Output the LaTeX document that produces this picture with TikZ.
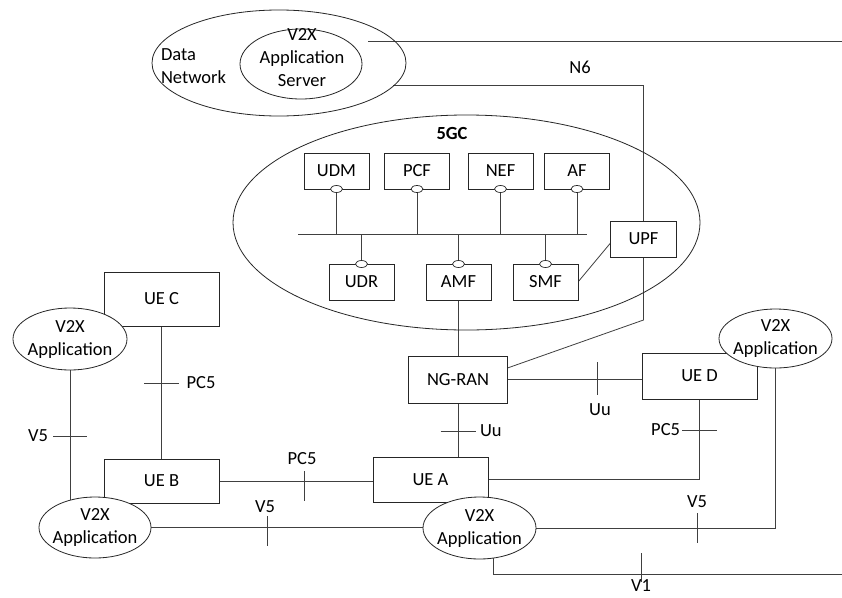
\documentclass[tikz,border=0pt]{standalone}
\usepackage{fontspec}
\setmainfont{Carlito}
\usetikzlibrary{shapes.geometric,calc,backgrounds}
\begin{document}
\begin{tikzpicture}[x=1pt,y=-1pt,
  every node/.style={font=\fontsize{18.5}{23}\selectfont, inner sep=0pt, outer sep=0pt},
  box/.style={draw=black!85, line width=0.8pt, fill=white, rectangle},
  nf/.style={box, minimum width=65pt, minimum height=36pt},
  ue/.style={box, minimum width=115pt},
  oval/.style={draw=black!85, line width=0.8pt, ellipse},
  app/.style={oval, fill=white},
  lolly/.style={draw=black!85, line width=0.7pt, fill=white, ellipse, minimum width=12pt, minimum height=7pt},
  conn/.style={draw=black!75, line width=0.8pt},
  lbl/.style={align=center}]
\useasboundingbox (0,0) rectangle (842,597);

% Data network
\node[oval, minimum width=254pt, minimum height=106pt] (dn) at (279,63) {};
\node[align=left, anchor=west] (dnlbl) at (161,66) {Data\\Network};
\node[oval, minimum width=122pt, minimum height=70pt] (as) at (301,64) {};
\node[lbl] (aslbl) at (302,58) {V2X\\Application\\Server};
\node (n6) at (580,67) {N6};

% 5GC
\node[oval, minimum width=467pt, minimum height=215pt] (fgc) at (466.5,222.5) {};
\node[font=\fontsize{18.5}{23}\selectfont\bfseries] (fgclbl) at (452,133) {5GC};
\node[nf] (udm) at (336.5,171) {UDM};
\node[nf] (pcf) at (417,171) {PCF};
\node[nf] (nef) at (500.5,171) {NEF};
\node[nf] (af) at (577,171) {AF};
\node[nf] (udr) at (361.5,282) {UDR};
\node[nf] (amf) at (458.5,282) {AMF};
\node[nf] (smf) at (545.5,282) {SMF};
\node[nf, minimum width=66pt] (upf) at (643.5,239) {UPF};
\node[lolly] (ludm) at (udm.south) {};
\node[lolly] (lpcf) at (pcf.south) {};
\node[lolly] (lnef) at (nef.south) {};
\node[lolly] (laf) at (af.south) {};
\node[lolly] (ludr) at (udr.north) {};
\node[lolly] (lamf) at (amf.north) {};
\node[lolly] (lsmf) at (smf.north) {};
\coordinate (busL) at (298,234);
\coordinate (busR) at (587,234);

% RAN and UEs
\node[box, minimum width=99pt, minimum height=47pt] (ngran) at (458,379.5) {NG-RAN};
\node[ue, minimum height=45pt] (uea) at (430.5,479.5) {UE A};
\node[ue, minimum height=46pt] (ued) at (699.5,376) {UE D};
\node[ue, minimum height=54pt] (uec) at (161.5,299) {UE C};
\node[ue, minimum height=44pt] (ueb) at (161.5,481) {UE B};

% V2X applications
\node[app, minimum width=114pt, minimum height=62pt] (appc) at (70,339) {};
\node[lbl] (appclbl) at (appc.center) {V2X\\Application};
\node[app, minimum width=112pt, minimum height=61pt] (appb) at (95,527.5) {};
\node[lbl] (appblbl) at (appb.center) {V2X\\Application};
\node[app, minimum width=113pt, minimum height=62pt] (appa) at (479.5,528) {};
\node[lbl] (appalbl) at (appa.center) {V2X\\Application};
\node[app, minimum width=113pt, minimum height=59pt] (appd) at (775.5,338.5) {};
\node[lbl] (appdlbl) at (appd.center) {V2X\\Application};

% interface labels
\node (uu1) [anchor=west] at (480,431) {Uu};
\node (uu2) at (600,410) {Uu};
\node (pc5d) [anchor=east] at (680,430) {PC5};
\node (pc5c) at (201,383) {PC5};
\node (v5c) at (38,436) {V5};
\node (pc5b) at (302,459) {PC5};
\node (v5b) at (265,507) {V5};
\node (v5d) at (697,502) {V5};
\node (v1) at (641,586) {V1};

\coordinate (asout) at (368,41);
\coordinate (n6end) at (842,41);
\coordinate (dnout) at (393,85);
\coordinate (v1end) at (842,574);

\begin{pgfonlayer}{background}
\fill[white] (0,0) rectangle (842,597);
% N6 and core
\draw[conn] (asout) -- (n6end);
\draw[conn] (dnout) -| (upf.north);
\draw[conn] (upf.south) -- ++(0,63) -- ($(ngran.north east)+(0,12)$);
\draw[conn] (smf.east) -- ($(upf.west)+(0,4)$);
\draw[conn] (busL) -- (busR);
\foreach \l in {ludm,lpcf,lnef,laf}{\draw[conn] (\l.south) -- (\l.south |- busL);}
\foreach \l in {ludr,lamf,lsmf}{\draw[conn] (\l.north) -- (\l.north |- busL);}
\draw[conn] (amf.south) -- (amf.south |- ngran.north);
% Uu NG-RAN - UE A
\draw[conn] (ngran.south) -- (ngran.south |- uea.north);
\draw[conn] (440.5,431) -- ++(35,0);
% Uu NG-RAN - UE D
\draw[conn] (ngran.east) -- (ngran.east -| ued.west);
\draw[conn] (597,362) -- ++(0,33);
% PC5 UE D - UE A
\draw[conn] (ued.south) |- (uea.east);
\draw[conn] (682,430) -- ++(35,0);
% PC5 UE C - UE B
\draw[conn] (uec.south) -- (ueb.north);
\draw[conn] (144,383) -- ++(35,0);
% V5 app C - app B
\draw[conn] (appc.center) -- (appc.center |- appb.center);
\draw[conn] (53,436) -- ++(34,0);
% PC5 UE B - UE A
\draw[conn] (ueb.east) -- (ueb.east -| uea.west);
\draw[conn] (304,471) -- ++(0,30);
% V5 app B - app A
\draw[conn] (appb.center) -- (appb.center -| appa.center);
\draw[conn] (267,516) -- ++(0,30);
% V5 app A - app D
\draw[conn] (appa.center) -| (appd.center);
\draw[conn] (697,513) -- ++(0,30);
% V1
\draw[conn] ($(appa.center)+(13.5,0)$) |- (v1end);
\draw[conn] (641,553) -- ++(0,29);
\end{pgfonlayer}
\end{tikzpicture}
\end{document}
